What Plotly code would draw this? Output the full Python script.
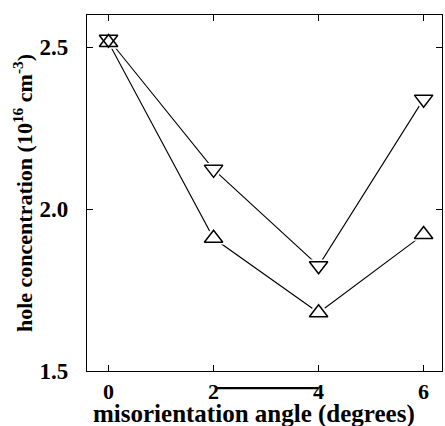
import plotly.graph_objects as go

angles = [0, 2, 4, 6]
hole_down = [2.525, 2.123, 1.825, 2.34]   # inverted triangles
hole_up = [2.515, 1.91, 1.68, 1.922]      # upright triangles

x_ticks = [0, 2, 4, 6]
y_ticks = [1.5, 2.0, 2.5]
y_tick_text = ["1.5", "2.0", "2.5"]
x_title = "misorientation angle (degrees)"
y_title = "hole concentration (10<sup>16</sup> cm<sup>-3</sup>)"

FONT = "Liberation Serif"
MS = 16

fig = go.Figure()

for ys in (hole_down, hole_up):
    fig.add_trace(go.Scatter(x=angles, y=ys, mode="lines",
                             line=dict(color="black", width=1.1),
                             hoverinfo="skip", showlegend=False))
for ys, sym in ((hole_down, "triangle-down"), (hole_up, "triangle-up")):
    fig.add_trace(go.Scatter(x=angles, y=ys, mode="markers",
                             marker=dict(symbol=sym, size=MS + 9, color="white",
                                         line=dict(width=0)),
                             hoverinfo="skip", showlegend=False))
for ys, sym in ((hole_down, "triangle-down"), (hole_up, "triangle-up")):
    fig.add_trace(go.Scatter(x=angles, y=ys, mode="markers",
                             marker=dict(symbol=sym, size=MS, color="rgba(0,0,0,0)",
                                         line=dict(color="black", width=1.5)),
                             showlegend=False))

# scan artifact bar under the axis between 2 and 4
fig.add_shape(type="line", xref="x", yref="paper", x0=2.05, x1=4.0,
              y0=-0.048, y1=-0.048, line=dict(color="black", width=2.2))

# x-axis title as annotation for precise placement
fig.add_annotation(text="<b>" + x_title + "</b>", xref="paper", yref="paper",
                   x=0.47, y=0, xanchor="center", yanchor="middle", yshift=-43,
                   showarrow=False,
                   font=dict(family=FONT, size=25, color="black"))

fig.update_layout(
    width=445, height=426,
    margin=dict(l=87, r=3, t=15, b=55),
    plot_bgcolor="white", paper_bgcolor="white",
    font=dict(family=FONT, color="black"),
)
fig.update_xaxes(
    automargin=False,
    range=[-0.41, 6.35], tickvals=x_ticks, ticktext=[str(v) for v in x_ticks],
    ticks="inside", ticklen=6, tickwidth=1.2, tickcolor="black",
    showline=True, linecolor="black", linewidth=1.3, mirror="ticks",
    showgrid=False, zeroline=False,
    tickfont=dict(family=FONT, size=22, color="black", weight="bold"),
    ticklabelstandoff=0,
)
fig.update_yaxes(
    automargin=False,
    range=[1.5, 2.6], tickvals=y_ticks, ticktext=y_tick_text,
    ticks="inside", ticklen=6, tickwidth=1.2, tickcolor="black",
    showline=True, linecolor="black", linewidth=1.3, mirror="ticks",
    showgrid=False, zeroline=False,
    tickfont=dict(family=FONT, size=23, color="black", weight="bold"),
    ticklabelstandoff=13,
    title=dict(text="<b>" + y_title + "</b>",
               font=dict(family=FONT, size=22, color="black"), standoff=0),
)

fig.write_html("out.html", config={"displayModeBar": False},
               post_script="document.body.style.margin='0';document.body.style.overflow='hidden';")
